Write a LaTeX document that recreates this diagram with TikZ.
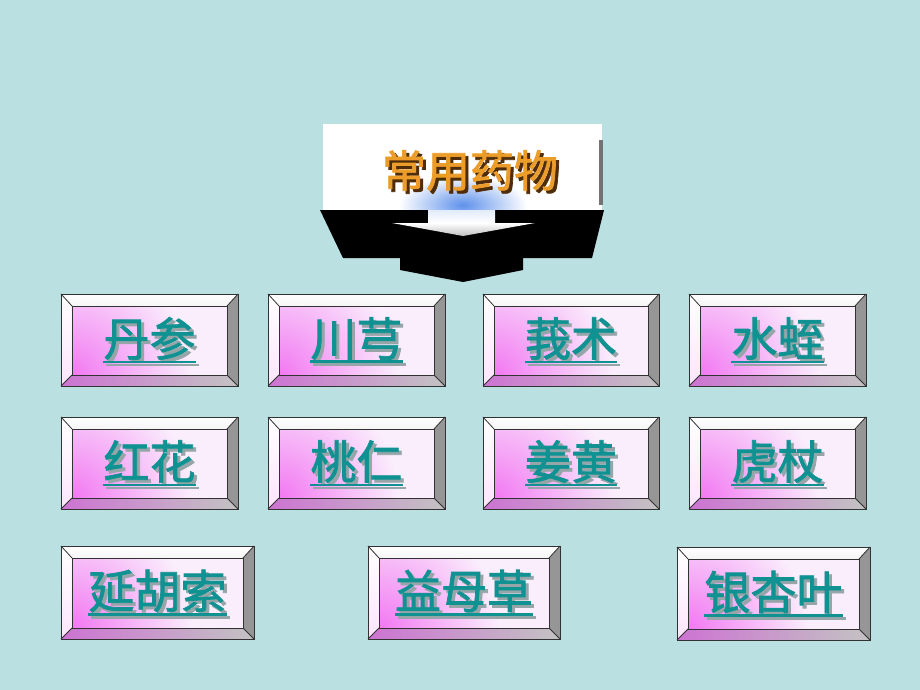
\documentclass[tikz,border=0pt]{standalone}
\usepackage{fontspec}
\newfontfamily\cjk{Noto Sans CJK SC}[FakeBold=1.6]
\definecolor{bg}{RGB}{186,224,226}
\definecolor{tealtxt}{RGB}{16,146,146}
\definecolor{orng}{RGB}{236,156,40}
\definecolor{headsh}{RGB}{80,45,10}
\definecolor{txtsh}{RGB}{150,165,168}
\definecolor{pinkf}{RGB}{242,120,242}
\definecolor{facec}{RGB}{250,238,252}
\definecolor{bevr}{RGB}{150,150,150}
\definecolor{bevbl}{RGB}{205,115,210}
\definecolor{bevbr}{RGB}{195,195,195}
\definecolor{edge}{RGB}{50,50,50}
\definecolor{glow}{RGB}{95,145,235}
\definecolor{stemc}{RGB}{225,235,250}
\tikzset{
  lbl/.style={font=\cjk\fontsize{46}{46}\selectfont, text=tealtxt, inner sep=0pt},
  ul/.style={draw=tealtxt, line width=2.6pt},
  ulsh/.style={draw=txtsh, line width=2.6pt},
  bevline/.style={draw=edge, line width=0.8pt},
}
\newcommand\shtext[2]{\rlap{\hspace*{3pt}\raisebox{-3pt}{\color{#2}#1}}#1}
\newcommand\bevbox[6]{%
  % #1 name, #2 x1, #3 y1, #4 x2, #5 y2, #6 text
  \shade[top color=white, bottom color=white!92!gray] (#2,#3) -- (#4,#3) -- (#4-11,#3+12) -- (#2+11,#3+12) -- cycle;
  \shade[top color=white, bottom color=white!80!pinkf] (#2,#3) -- (#2+11,#3+12) -- (#2+11,#5-11) -- (#2,#5) -- cycle;
  \fill[bevr] (#4,#3) -- (#4-11,#3+12) -- (#4-11,#5-11) -- (#4,#5) -- cycle;
  \shade[left color=bevbl, right color=bevbr] (#2,#5) -- (#2+11,#5-11) -- (#4-11,#5-11) -- (#4,#5) -- cycle;
  \begin{scope}
    \clip (#2+11,#3+12) rectangle (#4-11,#5-11);
    \fill[facec] (#2+11,#3+12) rectangle (#4-11,#5-11);
    \shade[inner color=pinkf, outer color=facec] (#2+11,#5-11) circle (120);
  \end{scope}
  \draw[bevline] (#2,#3) rectangle (#4,#5);
  \draw[bevline] (#2+11,#3+12) rectangle (#4-11,#5-11);
  \draw[bevline] (#2,#3) -- (#2+11,#3+12) (#4,#3) -- (#4-11,#3+12) (#2,#5) -- (#2+11,#5-11) (#4,#5) -- (#4-11,#5-11);
  \node[lbl] (#1) at ({(#2+#4)/2},{(#3+#5)/2}) {\shtext{#6}{txtsh}};
  \draw[ulsh] ([xshift=3pt,yshift=-9pt]#1.base west) -- ([xshift=3pt,yshift=-9pt]#1.base east);
  \draw[ul] ([yshift=-6pt]#1.base west) -- ([yshift=-6pt]#1.base east);
}
\begin{document}
\begin{tikzpicture}[x=1pt,y=-1pt]
\fill[bg] (0,0) rectangle (920,690);
\useasboundingbox (0,0) rectangle (920,690);
% header
\fill[white] (323,124) rectangle (602,210);
\begin{scope}
\clip (323,124) rectangle (602,210);
\shade[inner color=glow, outer color=white] (463,205) ellipse (64 and 30);
\end{scope}
\fill[black!55] (599,140) rectangle (603,205);
\fill[black] (320,210) -- (604,210) -- (592,258) -- (523,258) -- (523,270) -- (463,282) -- (400,270) -- (400,258) -- (343,258) -- cycle;
\shade[top color=stemc, bottom color=white] (428,210) -- (495,210) -- (495,223) -- (428,223) -- cycle;
\shade[top color=white, bottom color=black!25] (392,223) -- (535,223) -- (463,236) -- cycle;
\node[font=\cjk\fontsize{44}{44}\selectfont, text=orng, inner sep=0pt] (head) at (470,172) {\shtext{常用药物}{headsh}};
% row 1
\bevbox{b1}{61}{294}{238}{386}{丹参}
\bevbox{b2}{268}{294}{445}{386}{川芎}
\bevbox{b3}{483}{294}{659}{386}{莪术}
\bevbox{b4}{689}{294}{866}{386}{水蛭}
% row 2
\bevbox{b5}{61}{417}{238}{509}{红花}
\bevbox{b6}{268}{417}{445}{509}{桃仁}
\bevbox{b7}{483}{417}{659}{509}{姜黄}
\bevbox{b8}{689}{417}{866}{509}{虎杖}
% row 3
\bevbox{b9}{61}{546}{254}{639}{延胡索}
\bevbox{b10}{368}{546}{560}{639}{益母草}
\bevbox{b11}{677}{547}{870}{640}{银杏叶}
\end{tikzpicture}
\end{document}
